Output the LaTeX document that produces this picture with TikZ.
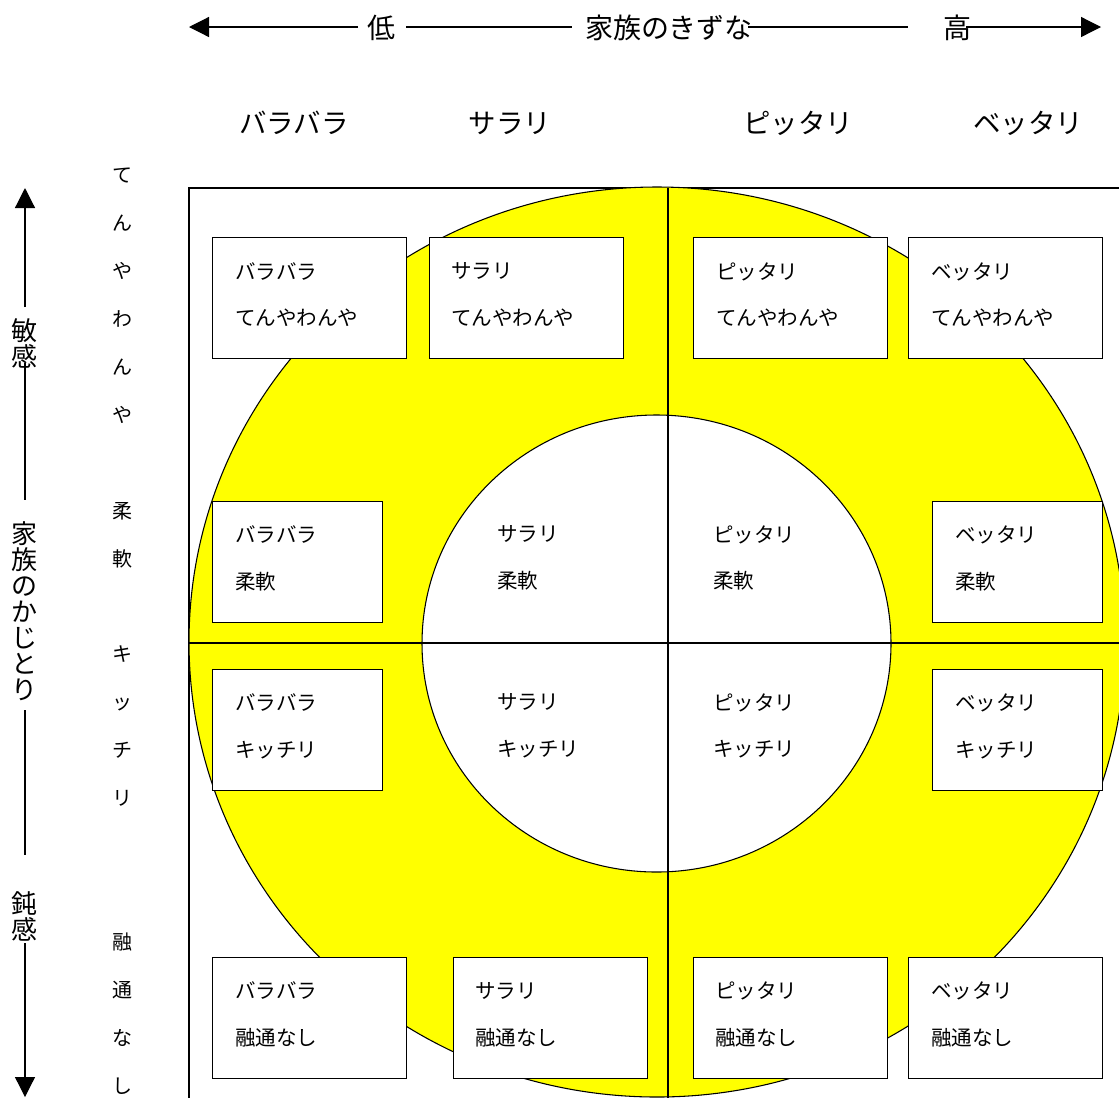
\documentclass[tikz,border=0pt]{standalone}
\usepackage{fontspec}
\setmainfont{Noto Sans CJK JP}
\usetikzlibrary{arrows.meta}
\definecolor{ringyellow}{RGB}{255,255,0}
\begin{document}
\begin{tikzpicture}[x=0.75pt,y=-0.75pt,
  cellbox/.style={draw, fill=white, line width=0.9pt, anchor=north west,
    minimum height=90.75pt, inner sep=0pt},
  widebox/.style={cellbox, minimum width=145.5pt},
  narrowbox/.style={cellbox, minimum width=127.5pt},
  plaintext/.style={anchor=west, align=left, inner sep=0pt, font=\fontsize{15.4}{35}\selectfont},
  head/.style={inner sep=0pt, font=\fontsize{20.6}{24}\selectfont},
  axislabel/.style={inner sep=0pt, font=\fontsize{21}{24}\selectfont},
  vlabel/.style={align=center, inner sep=0pt, font=\fontsize{19.5}{19.5}\selectfont},
  vsmall/.style={align=center, inner sep=0pt, font=\fontsize{15}{36}\selectfont},
  axisline/.style={line width=0.9pt},
  tipped/.style={axisline, -{Triangle[length=15pt,width=15pt]}},
  frame/.style={line width=0.9pt}
]
\clip (0,0) rectangle (1119,1097);
\fill[white] (0,0) rectangle (1119,1097);

% outer frame
\draw[frame] (189,188) rectangle (1140,1120);

% rings
\draw[fill=ringyellow, line width=0.8pt] (657,642) ellipse [x radius=468, y radius=455];
\draw[fill=white, line width=0.8pt] (656.5,643.5) ellipse [x radius=234.5, y radius=228.5];

% cross lines
\coordinate (vT) at (668,188);
\coordinate (vB) at (668,1100);
\coordinate (hL) at (189,643);
\coordinate (hR) at (1125,643);
\draw[frame] (vT) -- (vB);
\draw[frame] (hL) -- (hR);

% boxes
\node[widebox] (b11) at (212,237) {};
\node[widebox] (b12) at (429,237) {};
\node[widebox] (b13) at (693,237) {};
\node[widebox] (b14) at (908,237) {};
\node[narrowbox] (b21) at (212,501) {};
\node[narrowbox] (b24) at (932,501) {};
\node[narrowbox] (b31) at (212,669) {};
\node[narrowbox] (b34) at (932,669) {};
\node[widebox] (b41) at (212,957) {};
\node[widebox] (b42) at (453,957) {};
\node[widebox] (b43) at (693,957) {};
\node[widebox] (b44) at (908,957) {};

% box texts
\node[plaintext] (t11) at ([shift={(23,-3.5)}]b11.west) {バラバラ\\てんやわんや};
\node[plaintext] (t12) at ([shift={(22,-3.5)}]b12.west) {サラリ\\てんやわんや};
\node[plaintext] (t13) at ([shift={(23,-3.5)}]b13.west) {ピッタリ\\てんやわんや};
\node[plaintext] (t14) at ([shift={(23,-3.5)}]b14.west) {ベッタリ\\てんやわんや};
\node[plaintext] (t21) at ([shift={(23,-3.5)}]b21.west) {バラバラ\\柔軟};
\node[plaintext] (t22) at (497,558) {サラリ\\柔軟};
\node[plaintext] (t23) at (713,558) {ピッタリ\\柔軟};
\node[plaintext] (t24) at ([shift={(23,-3.5)}]b24.west) {ベッタリ\\柔軟};
\node[plaintext] (t31) at ([shift={(23,-3.5)}]b31.west) {バラバラ\\キッチリ};
\node[plaintext] (t32) at (497,726) {サラリ\\キッチリ};
\node[plaintext] (t33) at (713,726) {ピッタリ\\キッチリ};
\node[plaintext] (t34) at ([shift={(23,-3.5)}]b34.west) {ベッタリ\\キッチリ};
\node[plaintext] (t41) at ([shift={(23,-3.5)}]b41.west) {バラバラ\\融通なし};
\node[plaintext] (t42) at ([shift={(22,-3.5)}]b42.west) {サラリ\\融通なし};
\node[plaintext] (t43) at ([shift={(22,-3.5)}]b43.west) {ピッタリ\\融通なし};
\node[plaintext] (t44) at ([shift={(23,-3.5)}]b44.west) {ベッタリ\\融通なし};

% column headers
\node[head] (h1) at (294,123) {バラバラ};
\node[head] (h2) at (510,123) {サラリ};
\node[head] (h3) at (798,123) {ピッタリ};
\node[head] (h4) at (1028,123) {ベッタリ};

% row labels (vertical)
\node[vsmall] (r1) at (122,295.5) {て\\ん\\や\\わ\\ん\\や};
\node[vsmall] (r2) at (122,535) {柔\\軟};
\node[vsmall] (r3) at (122,726) {キ\\ッ\\チ\\リ};
\node[vsmall] (r4) at (122,1014) {融\\通\\な\\し};

% top axis
\node[axislabel] (low) at (381,28) {低};
\node[axislabel] (bond) at (669,28) {家族のきずな};
\node[axislabel] (high) at (957,28) {高};
\coordinate (tL) at (189,27);
\coordinate (a1) at (358,27);
\coordinate (a2) at (406,27);
\coordinate (a3) at (572,27);
\coordinate (a4) at (748,27);
\coordinate (a5) at (908,27);
\coordinate (a6) at (966,27);
\coordinate (tR) at (1101,27);
\draw[tipped] (a1) -- (tL);
\draw[axisline] (a2) -- (a3);
\draw[axisline] (a4) -- (a5);
\draw[tipped] (a6) -- (tR);

% left axis
\node[vlabel] (sens) at (25,343) {敏\\感};
\node[vlabel] (kaji) at (25,611) {家\\族\\の\\か\\じ\\と\\り};
\node[vlabel] (dull) at (25,916) {鈍\\感};
\coordinate (tU) at (25,188);
\coordinate (l1) at (25,307);
\coordinate (l2) at (25,363);
\coordinate (l3) at (25,500);
\coordinate (l4) at (25,710);
\coordinate (l5) at (25,855);
\coordinate (l6) at (25,943);
\coordinate (tD) at (25,1097);
\draw[tipped] (l1) -- (tU);
\draw[axisline] (l2) -- (l3);
\draw[axisline] (l4) -- (l5);
\draw[tipped] (l6) -- (tD);
\end{tikzpicture}
\end{document}
